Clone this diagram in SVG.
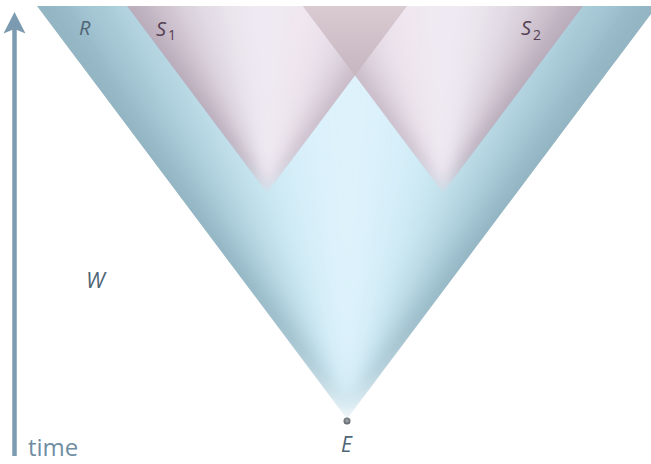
<svg xmlns="http://www.w3.org/2000/svg" width="651" height="464" viewBox="0 0 651 464">
<style>
.lbl{font-family:"Open Sans","Liberation Sans",sans-serif;font-style:italic}
.slate{fill:#4f6676}
.plum{fill:#553f52}
.sub{font-style:normal;font-size:14px}
</style>
<defs>
<linearGradient id="ovl" x1="0" y1="0" x2="0" y2="1">
<stop offset="0" stop-color="#dacad1"/>
<stop offset="1" stop-color="#c6b6c0"/>
</linearGradient>
<radialGradient id="dot" cx="0.5" cy="0.45" r="0.5">
<stop offset="0" stop-color="#a7adb0"/>
<stop offset="1" stop-color="#5f676c"/>
</radialGradient>
<filter id="blurW" x="-20%" y="-20%" width="140%" height="140%"><feGaussianBlur stdDeviation="9"/></filter>
<filter id="blurS" x="-20%" y="-20%" width="140%" height="140%"><feGaussianBlur stdDeviation="5"/></filter>
<clipPath id="clipW"><polygon points="347,419 37,6 657,6"/></clipPath>
<clipPath id="clipS1"><polygon points="267,193 127,6 407,6"/></clipPath>
<clipPath id="clipS2"><polygon points="443,193 303,6 583,6"/></clipPath>
</defs>
<rect width="651" height="464" fill="#ffffff"/>

<g id="cone-W" clip-path="url(#clipW)">
<g filter="url(#blurW)" transform="translate(347,419) scale(1.15) translate(-347,-419)">
<polygon points="347,419 -40,6 37,6" fill="#8eb0be"/>
<polygon points="347,419 37,6 75.75,6" fill="#96b8c6"/>
<polygon points="347,419 75.75,6 114.5,6" fill="#a6c8d5"/>
<polygon points="347,419 114.5,6 153.25,6" fill="#b4d5e1"/>
<polygon points="347,419 153.25,6 192,6" fill="#c1e0eb"/>
<polygon points="347,419 192,6 230.75,6" fill="#cbe8f3"/>
<polygon points="347,419 230.75,6 269.5,6" fill="#d3edf8"/>
<polygon points="347,419 269.5,6 308.25,6" fill="#d9f0fa"/>
<polygon points="347,419 308.25,6 347,6" fill="#ddf2fb"/>
<polygon points="347,419 347,6 385.75,6" fill="#ddf2fb"/>
<polygon points="347,419 385.75,6 424.5,6" fill="#d9f0fa"/>
<polygon points="347,419 424.5,6 463.25,6" fill="#d3edf8"/>
<polygon points="347,419 463.25,6 502,6" fill="#cbe8f3"/>
<polygon points="347,419 502,6 540.75,6" fill="#c1e0eb"/>
<polygon points="347,419 540.75,6 579.5,6" fill="#b4d5e1"/>
<polygon points="347,419 579.5,6 618.25,6" fill="#a6c8d5"/>
<polygon points="347,419 618.25,6 657,6" fill="#96b8c6"/>
<polygon points="347,419 657,6 734,6" fill="#8eb0be"/>
</g>
</g>

<g id="cone-S1" clip-path="url(#clipS1)">
<g filter="url(#blurS)" transform="translate(267,193) scale(1.3) translate(-267,-193)">
<polygon points="267,193 90,6 127,6" fill="#b6a8b6"/>
<polygon points="267,193 127,6 150.33,6" fill="#bfb1bf"/>
<polygon points="267,193 150.33,6 173.67,6" fill="#cdc1cd"/>
<polygon points="267,193 173.67,6 197,6" fill="#dad1dc"/>
<polygon points="267,193 197,6 220.33,6" fill="#e4dde7"/>
<polygon points="267,193 220.33,6 243.67,6" fill="#ebe5ee"/>
<polygon points="267,193 243.67,6 267,6" fill="#eee9f2"/>
<polygon points="267,193 267,6 290.33,6" fill="#efe9f2"/>
<polygon points="267,193 290.33,6 313.67,6" fill="#f0e7f0"/>
<polygon points="267,193 313.67,6 337,6" fill="#ece3ed"/>
<polygon points="267,193 337,6 360.33,6" fill="#e5dce6"/>
<polygon points="267,193 360.33,6 383.67,6" fill="#dbd0db"/>
<polygon points="267,193 383.67,6 407,6" fill="#cdc0cc"/>
<polygon points="267,193 407,6 444,6" fill="#c6b8c4"/>
</g>
</g>

<g id="cone-S2" clip-path="url(#clipS2)">
<g filter="url(#blurS)" transform="translate(443,193) scale(1.3) translate(-443,-193)">
<polygon points="443,193 266,6 303,6" fill="#c6b8c4"/>
<polygon points="443,193 303,6 326.33,6" fill="#cdc0cc"/>
<polygon points="443,193 326.33,6 349.67,6" fill="#dbd0db"/>
<polygon points="443,193 349.67,6 373,6" fill="#e5dce6"/>
<polygon points="443,193 373,6 396.33,6" fill="#ece3ed"/>
<polygon points="443,193 396.33,6 419.67,6" fill="#f0e7f0"/>
<polygon points="443,193 419.67,6 443,6" fill="#efe9f2"/>
<polygon points="443,193 443,6 466.33,6" fill="#eee9f2"/>
<polygon points="443,193 466.33,6 489.67,6" fill="#ebe5ee"/>
<polygon points="443,193 489.67,6 513,6" fill="#e4dde7"/>
<polygon points="443,193 513,6 536.33,6" fill="#dad1dc"/>
<polygon points="443,193 536.33,6 559.67,6" fill="#cdc1cd"/>
<polygon points="443,193 559.67,6 583,6" fill="#bfb1bf"/>
<polygon points="443,193 583,6 620,6" fill="#b6a8b6"/>
</g>
</g>

<g id="overlap">
<polygon points="303,6 407,6 355,75.5" fill="url(#ovl)"/>
</g>

<g id="event-E">
<circle cx="347" cy="421" r="3.5" fill="url(#dot)"/>
<text class="lbl slate" x="341" y="452" font-size="21">E</text>
</g>

<g id="labels">
<text class="lbl slate" x="79" y="35" font-size="20">R</text>
<text class="lbl plum" x="156" y="36" font-size="20">S<tspan class="sub" dx="2" dy="4">1</tspan></text>
<text class="lbl plum" x="521" y="35" font-size="20">S<tspan class="sub" dx="2" dy="5">2</tspan></text>
<text class="lbl slate" x="86" y="288" font-size="22">W</text>
</g>

<g id="connectors">
<line x1="14.5" y1="456" x2="14.5" y2="28" stroke="#7d9bb0" stroke-width="4.5"/>
<polygon points="14.5,12 25.5,33.5 14.5,29 3.5,33.5" fill="#7d9bb0"/>
<text x="28" y="456" font-family="Open Sans, Liberation Sans, sans-serif" font-size="24" fill="#6f8ea3">time</text>
</g>
</svg>
